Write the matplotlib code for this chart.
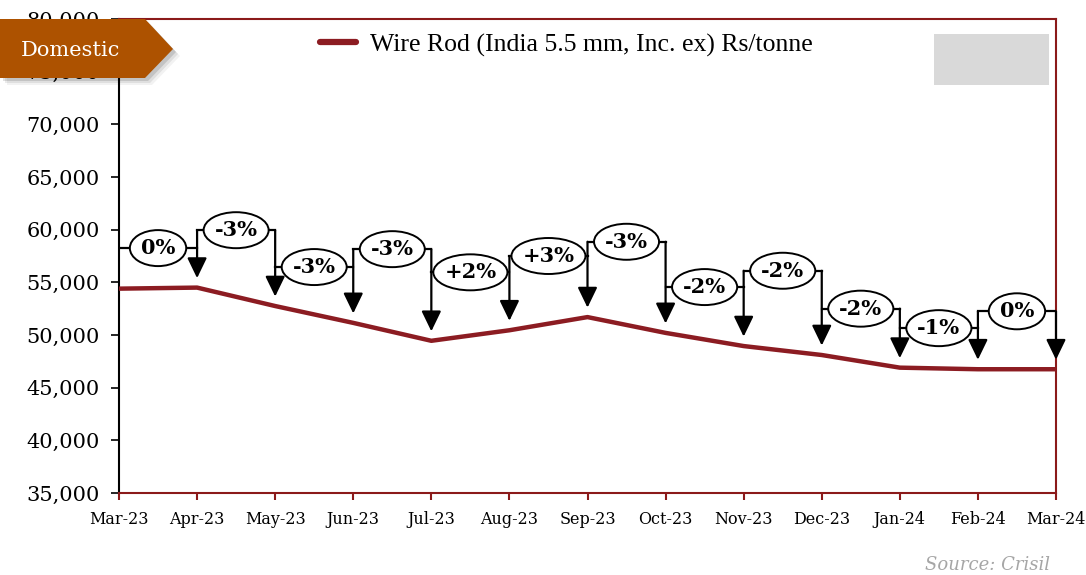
import matplotlib
matplotlib.use("Agg")
import matplotlib.pyplot as plt
from matplotlib.patches import Ellipse, Polygon, Rectangle
from matplotlib.ticker import FuncFormatter

months = ['Mar-23', 'Apr-23', 'May-23', 'Jun-23', 'Jul-23', 'Aug-23', 'Sep-23',
          'Oct-23', 'Nov-23', 'Dec-23', 'Jan-24', 'Feb-24', 'Mar-24']
price = [54400, 54500, 52750, 51150, 49450, 50450, 51700,
         50200, 48950, 48100, 46900, 46750, 46750]
change_labels = ['0%', '-3%', '-3%', '-3%', '+2%', '+3%', '-3%',
                 '-2%', '-2%', '-2%', '-1%', '0%']
series_name = 'Wire Rod (India 5.5 mm, Inc. ex) Rs/tonne'

# layout: height of each month-on-month callout
callout_level = [58250, 59950, 56450, 58150, 55950, 57500, 58850,
                 54550, 56100, 52500, 50650, 52250]

line_red = '#8C1C22'
spine_red = '#8B1A1A'
tag_col = '#AD5200'
serif = ['DejaVu Serif']

fig = plt.figure(figsize=(10.86, 5.75), dpi=100)
ax = fig.add_axes([119 / 1086, 82 / 575, (1056 - 119) / 1086, (493 - 19) / 575])

x = list(range(len(months)))
ax.plot(x, price, color=line_red, lw=3.2, solid_capstyle='butt', zorder=3, label=series_name)

ax.set_xlim(0, len(months) - 1)
ax.set_ylim(35000, 80000)

# callouts: bracket, ellipse with % change, arrow down to the line
gap = 900
texts = []
for i, lab in enumerate(change_labels):
    lvl = callout_level[i]
    ax.plot([i, i + 1], [lvl, lvl], color='black', lw=1.6, zorder=4)
    t = ax.text(i + 0.5, lvl, lab, ha='center', va='center', fontsize=15,
                fontweight='bold', family=serif, zorder=6)
    texts.append(t)

fig.canvas.draw()
r = fig.canvas.get_renderer()
xunit = ax.bbox.width / (len(months) - 1)      # px per month
yunit = ax.bbox.height / 45000                 # px per Rs
for i, t in enumerate(texts):
    w = t.get_window_extent(r).width + 22
    ax.add_patch(Ellipse((i + 0.5, callout_level[i]), w / xunit, 36 / yunit,
                         facecolor='white', edgecolor='black', lw=1.4, zorder=5))

for j in range(1, len(months)):
    top = callout_level[j - 1]
    if j < len(change_labels):
        top = max(top, callout_level[j])
    ax.annotate('', xy=(j, price[j] + gap), xytext=(j, top),
                arrowprops=dict(arrowstyle='-|>,head_length=0.62,head_width=0.3',
                                mutation_scale=20, color='black', lw=1.6,
                                shrinkA=0, shrinkB=0), zorder=4)

ax.set_yticks(range(35000, 80001, 5000))
ax.yaxis.set_major_formatter(FuncFormatter(lambda v, p: f'{int(v):,}'))
ax.set_xticks(x)
ax.set_xticklabels(months)

for lbl in ax.get_yticklabels():
    lbl.set_family(serif)
    lbl.set_fontsize(15)
for lbl in ax.get_xticklabels():
    lbl.set_family(serif)
    lbl.set_fontsize(11.5)

ax.tick_params(axis='y', direction='out', length=6, width=1.2, color='black', pad=8)
ax.tick_params(axis='x', direction='out', length=5, width=1.5, color=spine_red, pad=8)
ax.spines['left'].set_color('black')
ax.spines['left'].set_linewidth(1.5)
for s in ['top', 'right', 'bottom']:
    ax.spines[s].set_color(spine_red)
    ax.spines[s].set_linewidth(1.5)

leg = ax.legend(loc='center left', bbox_to_anchor=(320 / 1086, 1 - 45 / 575),
                bbox_transform=fig.transFigure, frameon=False, handlelength=1.4,
                handletextpad=0.55, borderaxespad=0, borderpad=0,
                prop={'family': 'Liberation Serif', 'size': 18.5})
leg.get_lines()[0].set_linewidth(4.5)
leg.get_lines()[0].set_solid_capstyle('round')

# grey box top right
fig.add_artist(Rectangle((934 / 1086, 1 - 85 / 575), 115 / 1086, 51 / 575,
                         transform=fig.transFigure, facecolor='#D9D9D9',
                         edgecolor='none', zorder=2))

# "Domestic" tag with soft shadow
def px(xp, yp):
    return (xp / 1086, 1 - yp / 575)

tag = [px(0, 19), px(145, 19), px(173, 49), px(145, 78), px(0, 78)]
for k, a in [(7, 0.05), (5, 0.08), (3, 0.12)]:
    sh = [(p[0] + k / 1086, p[1] - k / 575) for p in tag]
    fig.add_artist(Polygon(sh, closed=True, transform=fig.transFigure,
                           facecolor='black', edgecolor='none', alpha=a, zorder=8))
fig.add_artist(Polygon(tag, closed=True, transform=fig.transFigure,
                       facecolor=tag_col, edgecolor='none', zorder=9))
fig.text(70 / 1086, 1 - 50 / 575, 'Domestic', color='white', fontsize=15,
         family=serif, ha='center', va='center', zorder=10)

fig.text(1050 / 1086, 1 - 565 / 575, 'Source: Crisil', color='#A6A6A6',
         fontsize=13, style='italic', family=serif, ha='right', va='center')

fig.savefig('out.png', dpi=100)
